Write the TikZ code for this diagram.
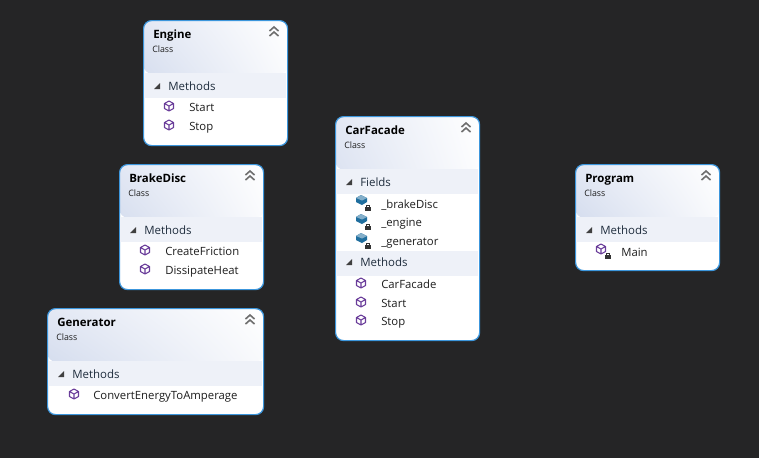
\documentclass[tikz,border=0pt]{standalone}
\usepackage{fontspec}
\setmainfont{Open Sans}
\usetikzlibrary{positioning,calc,shadings}
\definecolor{canvasbg}{HTML}{252526}
\definecolor{boxedge}{HTML}{3C96DC}
\definecolor{headblue}{HTML}{C8D3E9}
\definecolor{headmid}{HTML}{E3E8F4}
\definecolor{headright}{HTML}{F3F5FA}
\definecolor{bandfill}{HTML}{EEF1F8}
\definecolor{methodcol}{HTML}{6A3D9A}
\definecolor{fieldcol}{HTML}{1F6E9E}
\definecolor{chevcol}{HTML}{6E6E6E}
\definecolor{itemtext}{HTML}{1E1E1E}
\definecolor{bandtext}{HTML}{1F2D3D}

\begin{document}
\begin{tikzpicture}[
  x=0.75pt, y=-0.75pt,
  classbox/.style={draw=boxedge, line width=0.9pt, fill=white, rounded corners=6pt,
                   anchor=north west, inner sep=0pt, minimum width=108pt,
                   path picture={\shade[lower left=headblue, upper left=headmid,
                                        lower right=headright, upper right=white]
                     (path picture bounding box.north west) rectangle
                     ($(path picture bounding box.north east)+(0,-39.75pt)$);}},
  bandbox/.style={fill=bandfill, anchor=north west, inner sep=0pt, minimum height=18.5pt},
  label/.style={anchor=west, inner sep=0pt, text height=6.5pt, text depth=2pt},
  classname/.style={label, yshift=-1.5pt, font=\fontsize{8.6}{11}\selectfont\bfseries, text=black},
  classkind/.style={label, yshift=-0.5pt, font=\fontsize{6.6}{8}\selectfont, text=itemtext},
  bandname/.style={label, yshift=-0.75pt, font=\fontsize{8.6}{10}\selectfont, text=bandtext},
  itemname/.style={label, yshift=-1.1pt, font=\fontsize{8.5}{10}\selectfont, text=itemtext},
  methodicon/.pic={
    \draw[methodcol, line width=0.8pt, line join=round]
      (0,-5) -- (4.5,-2.5) -- (4.5,2.5) -- (0,5) -- (-4.5,2.5) -- (-4.5,-2.5) -- cycle
      (-4.5,-2.5) -- (0,0) -- (4.5,-2.5) (0,0) -- (0,5);
  },
  fieldicon/.pic={
    \fill[fieldcol] (-6,-2) -- (-1,-5) -- (5,-2) -- (5,2) -- (0,5) -- (-6,2) -- cycle;
    \fill[fieldcol!55!white] (-6,-2) -- (-1,-5) -- (5,-2) -- (0,0.5) -- cycle;
  },
  lockicon/.pic={
    \fill[black!80] (-2.8,-0.5) rectangle (2.8,3.5);
    \draw[black!80, line width=0.7pt] (-1.6,-0.5) -- (-1.6,-2) -- (1.6,-2) -- (1.6,-0.5);
  },
  chevicon/.pic={
    \draw[chevcol, line width=1.2pt] (-4.5,-1) -- (0,-5) -- (4.5,-1) (-4.5,4) -- (0,0) -- (4.5,4);
  },
  twisty/.pic={
    \fill[black!75] (3,-3) -- (3,3) -- (-3,3) -- cycle;
  },
]
\fill[canvasbg] (0,0) rectangle (759,458);
\useasboundingbox (0,0) rectangle (759,458);

% ---- Engine ----------------------------------------------------------
\node[classbox, minimum height=93.75pt] (engine) at (143,20) {};
\node[bandbox, minimum width=106.5pt] (engineBand) at (144,73) {};
\node[classname] (engineName) at (153,33) {Engine};
\node[classkind] (engineKind) at (152,49) {Class};
\node[bandname] (engineMethods) at (168,86) {Methods};
\node[itemname] (engineStart) at (189,107) {Start};
\node[itemname] (engineStop) at (189,126) {Stop};
\pic at (274,32) {chevicon};
\pic at (157,86) {twisty};
\pic at (169,106) {methodicon};
\pic at (169,125) {methodicon};

% ---- BrakeDisc -------------------------------------------------------
\node[classbox, minimum height=93.75pt] (brakeDisc) at (119,164) {};
\node[bandbox, minimum width=106.5pt] (brakeBand) at (120,217) {};
\node[classname] (brakeName) at (129,177) {BrakeDisc};
\node[classkind] (brakeKind) at (128,193) {Class};
\node[bandname] (brakeMethods) at (144,230) {Methods};
\node[itemname] (brakeFriction) at (165,251) {CreateFriction};
\node[itemname] (brakeHeat) at (165,270) {DissipateHeat};
\pic at (250,176) {chevicon};
\pic at (133,230) {twisty};
\pic at (145,250) {methodicon};
\pic at (145,269) {methodicon};

% ---- Generator -------------------------------------------------------
\node[classbox, minimum width=162pt, minimum height=79.5pt] (generator) at (47,308) {};
\node[bandbox, minimum width=160.5pt] (generatorBand) at (48,361) {};
\node[classname] (generatorName) at (57,321) {Generator};
\node[classkind] (generatorKind) at (56,337) {Class};
\node[bandname] (generatorMethods) at (72,374) {Methods};
\node[itemname] (generatorConvert) at (93,395) {ConvertEnergyToAmperage};
\pic at (250,320) {chevicon};
\pic at (61,374) {twisty};
\pic at (74,394) {methodicon};

% ---- CarFacade -------------------------------------------------------
\node[classbox, minimum height=168pt] (carFacade) at (335,116) {};
\node[bandbox, minimum width=106.5pt] (carFieldBand) at (336,169) {};
\node[bandbox, minimum width=106.5pt] (carMethodBand) at (336,251) {};
\node[classname] (carName) at (345,129) {CarFacade};
\node[classkind] (carKind) at (344,145) {Class};
\node[bandname] (carFields) at (360,182) {Fields};
\node[itemname] (carBrake) at (381,204) {\_brakeDisc};
\node[itemname] (carEngine) at (381,222) {\_engine};
\node[itemname] (carGenerator) at (381,241) {\_generator};
\node[bandname] (carMethods) at (360,262) {Methods};
\node[itemname] (carCtor) at (381,284) {CarFacade};
\node[itemname] (carStart) at (381,303) {Start};
\node[itemname] (carStop) at (381,321) {Stop};
\pic at (466,128) {chevicon};
\pic at (349,182) {twisty};
\pic at (349,262) {twisty};
\pic at (362,200) {fieldicon};
\pic at (362,219) {fieldicon};
\pic at (362,238) {fieldicon};
\pic at (368,207) {lockicon};
\pic at (368,226) {lockicon};
\pic at (368,245) {lockicon};
\pic at (361,283) {methodicon};
\pic at (361,302) {methodicon};
\pic at (361,320) {methodicon};

% ---- Program ---------------------------------------------------------
\node[classbox, minimum height=79.5pt] (program) at (575,164) {};
\node[bandbox, minimum width=106.5pt] (programBand) at (576,217) {};
\node[classname] (programName) at (585,177) {Program};
\node[classkind] (programKind) at (584,193) {Class};
\node[bandname] (programMethods) at (600,230) {Methods};
\node[itemname] (programMain) at (621,252) {Main};
\pic at (706,176) {chevicon};
\pic at (589,230) {twisty};
\pic at (601,249) {methodicon};
\pic at (608,255) {lockicon};
\end{tikzpicture}
\end{document}
